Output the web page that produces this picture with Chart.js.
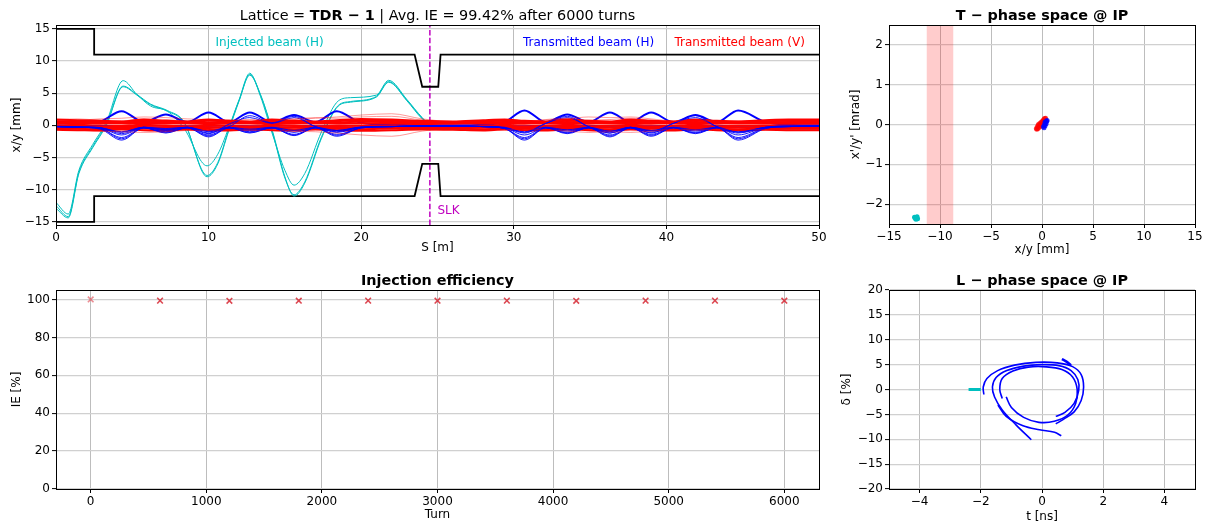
<!DOCTYPE html>
<html><head><meta charset="utf-8">
<script src="https://cdn.jsdelivr.net/npm/chart.js@4.4.1/dist/chart.umd.min.js"></script>
<style>
html,body{margin:0;padding:0;background:#fff}
body{width:1207px;height:529px;position:relative;overflow:hidden;font-family:"DejaVu Sans",sans-serif}
canvas{position:absolute}
.tt{position:absolute;transform:translateX(-50%);font:14.4px/1 "DejaVu Sans",sans-serif;color:#000;white-space:nowrap;z-index:2}
.b{font-weight:bold}
</style></head>
<body>
<canvas id="c1" width="830" height="262" style="left:0;top:0"></canvas>
<canvas id="c2" width="377" height="262" style="left:830px;top:0"></canvas>
<canvas id="c3" width="830" height="264" style="left:0;top:265px"></canvas>
<canvas id="c4" width="377" height="264" style="left:830px;top:265px"></canvas>
<div class="tt" style="left:437.5px;top:8px">Lattice = <b>TDR − 1</b> | Avg. IE = 99.42% after 6000 turns</div>
<div class="tt b" style="left:1042px;top:8px">T − phase space @ IP</div>
<div class="tt b" style="left:437.5px;top:273px">Injection efficiency</div>
<div class="tt b" style="left:1042px;top:273px">L − phase space @ IP</div>
<script>
// ---------------- DATA: top-left (trajectories) ----------------
const tlXTicks = [0, 10, 20, 30, 40, 50];
const tlYTicks = [-15, -10, -5, 0, 5, 10, 15];
const sGrid = [0, 1.4, 2.9, 4.3, 5.75, 7.2, 8.6, 10, 11.35, 12.7, 14.15, 15.6, 17, 18.4, 20, 22, 24, 26, 28, 29.4, 30.7, 32.1, 33.5, 34.9, 36.3, 37.65, 39, 40.45, 41.9, 43.3, 44.7, 46.5, 48, 50];
const blueTop = [0.3, 0.3, 0.6, 2.2, 0.5, 1.7, 0.5, 2.0, 0.5, 2.0, 0.5, 1.6, 0.5, 2.2, 0.4, 0.1, 0.0, 0.0, 0.1, 0.5, 2.3, 0.5, 1.7, 0.5, 2.0, 0.5, 2.0, 0.5, 1.6, 0.5, 2.3, 0.5, 0.1, 0.0];
const blueMid = [-0.1, -0.1, -0.05, -0.1, -0.1, -0.05, -0.1, -0.1, -0.05, -0.1, -0.1, -0.05, -0.1, -0.1, -0.05, -0.1, -0.1, -0.1, -0.05, -0.1, -0.1, -0.05, -0.1, -0.1, -0.05, -0.1, -0.1, -0.05, -0.1, -0.1, -0.05, -0.1, -0.1, -0.1];
const blueNeg1 = [-0.2, -0.3, -0.6, -2.3, -0.4, -1.2, -0.4, -1.8, -0.4, -1.2, -0.4, -1.6, -0.4, -1.7, -0.4, -0.2, -0.1, -0.1, -0.2, -0.5, -2.3, -0.4, -1.3, -0.4, -1.8, -0.4, -1.7, -0.4, -1.3, -0.4, -2.3, -0.5, -0.2, -0.1];
const blueNeg2 = [-0.2, -0.3, -0.5, -1.9, -0.4, -1.0, -0.4, -1.5, -0.4, -1.0, -0.4, -1.4, -0.4, -1.4, -0.4, -0.2, -0.1, -0.1, -0.2, -0.5, -1.9, -0.4, -1.1, -0.4, -1.5, -0.4, -1.4, -0.4, -1.1, -0.4, -1.9, -0.4, -0.2, -0.1];
const blueNeg3 = [-0.2, -0.25, -0.4, -1.5, -0.35, -0.8, -0.35, -1.2, -0.35, -0.8, -0.35, -1.1, -0.35, -1.1, -0.3, -0.2, -0.1, -0.1, -0.2, -0.4, -1.5, -0.35, -0.9, -0.35, -1.2, -0.35, -1.1, -0.35, -0.9, -0.35, -1.5, -0.35, -0.2, -0.1];
const blueNeg4 = [-0.15, -0.2, -0.35, -1.1, -0.3, -0.6, -0.3, -0.9, -0.3, -0.6, -0.3, -0.8, -0.3, -0.8, -0.25, -0.15, -0.1, -0.1, -0.15, -0.3, -1.1, -0.3, -0.7, -0.3, -0.9, -0.3, -0.8, -0.3, -0.7, -0.3, -1.1, -0.3, -0.15, -0.1];
const blueNeg5 = [-0.2, -0.3, -0.5, -2.1, -0.4, -1.1, -0.4, -1.65, -0.4, -1.1, -0.4, -1.5, -0.4, -1.55, -0.4, -0.2, -0.1, -0.1, -0.2, -0.5, -2.1, -0.4, -1.2, -0.4, -1.65, -0.4, -1.55, -0.4, -1.2, -0.4, -2.1, -0.45, -0.2, -0.1];
const blueMix1 = [-0.2, -0.3, -0.4, -1.0, -0.3, -0.5, -0.3, -1.0, -0.2, 1.5, 0.4, 1.4, -0.2, -0.8, -0.3, -0.2, -0.1, -0.1, -0.2, -0.4, -1.0, 0.3, 1.4, -0.2, -1.0, -0.3, -0.9, 0.3, 1.5, -0.2, -1.0, -0.3, -0.1, -0.1];
const blueMix2 = [-0.2, -0.3, -0.4, -1.3, -0.3, -0.7, -0.3, -1.3, 0.2, 1.2, 0.3, 1.2, -0.2, -1.0, -0.3, -0.2, -0.1, -0.1, -0.2, -0.4, -1.2, 0.3, 1.2, -0.2, -1.2, -0.3, -1.2, 0.3, 1.2, -0.2, -1.2, -0.3, -0.1, -0.1];
const redA = [0.9, 0.8, 0.7, 0.6, 0.9, 0.7, 0.6, 0.9, 0.7, 0.6, 0.9, 0.7, 0.6, 0.8, 1.0, 0.9, 0.7, 0.6, 0.8, 0.9, 0.7, 0.6, 0.9, 0.7, 0.6, 0.9, 0.7, 0.6, 0.9, 0.7, 0.6, 0.8, 0.9, 0.9];
const redB = [0.65, 0.6, 0.55, 0.5, 0.7, 0.6, 0.5, 0.7, 0.6, 0.5, 0.7, 0.6, 0.5, 0.65, 0.8, 0.7, 0.55, 0.5, 0.65, 0.7, 0.55, 0.5, 0.7, 0.6, 0.5, 0.7, 0.6, 0.5, 0.7, 0.6, 0.5, 0.65, 0.7, 0.7];
const redC = [0.45, 0.4, 0.35, 0.4, 0.5, 0.4, 0.35, 0.45, 0.4, 0.35, 0.5, 0.4, 0.35, 0.45, 0.55, 0.5, 0.4, 0.35, 0.45, 0.5, 0.4, 0.35, 0.5, 0.4, 0.35, 0.5, 0.4, 0.35, 0.5, 0.4, 0.35, 0.45, 0.5, 0.5];
const redH = [0.25, 0.2, 0.25, 0.3, 0.2, 0.25, 0.3, 0.2, 0.25, 0.3, 0.2, 0.25, 0.3, 0.25, 0.3, 0.25, 0.2, 0.25, 0.3, 0.2, 0.25, 0.3, 0.2, 0.25, 0.3, 0.2, 0.25, 0.3, 0.2, 0.25, 0.3, 0.25, 0.25, 0.25];
const redD = [-0.05, -0.1, -0.15, -0.1, -0.05, -0.1, -0.15, -0.05, -0.1, -0.15, -0.05, -0.1, -0.15, -0.1, -0.05, -0.1, -0.1, -0.15, -0.05, -0.1, -0.15, -0.05, -0.1, -0.15, -0.05, -0.1, -0.15, -0.05, -0.1, -0.15, -0.05, -0.1, -0.1, -0.1];
const redE = [-0.3, -0.3, -0.35, -0.25, -0.3, -0.35, -0.25, -0.3, -0.35, -0.25, -0.3, -0.35, -0.25, -0.3, -0.35, -0.3, -0.25, -0.3, -0.35, -0.25, -0.3, -0.35, -0.25, -0.3, -0.35, -0.25, -0.3, -0.35, -0.25, -0.3, -0.35, -0.3, -0.3, -0.3];
const redF = [-0.5, -0.55, -0.6, -0.45, -0.5, -0.6, -0.45, -0.55, -0.6, -0.45, -0.5, -0.6, -0.45, -0.55, -0.6, -0.5, -0.45, -0.5, -0.6, -0.45, -0.55, -0.6, -0.45, -0.55, -0.6, -0.45, -0.5, -0.6, -0.45, -0.55, -0.6, -0.5, -0.55, -0.55];
const redG = [-0.7, -0.75, -0.8, -0.65, -0.75, -0.8, -0.65, -0.75, -0.8, -0.65, -0.75, -0.8, -0.65, -0.75, -0.85, -0.75, -0.65, -0.7, -0.8, -0.65, -0.75, -0.8, -0.65, -0.75, -0.8, -0.65, -0.75, -0.8, -0.65, -0.75, -0.8, -0.7, -0.75, -0.75];
const redOut1 = [0.7, 0.8, 1.0, 1.1, 1.3, 1.2, 1.0, 0.9, 0.8, 0.9, 0.8, 0.9, 1.1, 1.3, 1.6, 1.8, 1.0, 0.6, 0.7, 0.8, 0.7, 0.8, 1.0, 1.3, 1.2, 1.3, 1.0, 0.7, 0.8, 0.7, 0.6, 0.7, 0.8, 0.8];
const redOut2 = [-0.6, -0.7, -0.9, -1.0, -1.1, -1.0, -0.8, -0.8, -0.7, -0.8, -0.8, -0.9, -1.0, -1.2, -1.5, -1.7, -0.9, -0.5, -0.6, -0.7, -0.6, -0.7, -0.9, -1.1, -1.0, -1.1, -0.9, -0.6, -0.7, -0.6, -0.6, -0.7, -0.7, -0.7];
const redOut3 = [0.9, 1.0, 0.8, 0.7, 1.0, 0.9, 0.7, 0.9, 0.8, 0.6, 0.9, 1.0, 1.2, 1.1, 1.3, 1.4, 0.8, 0.5, 0.6, 0.7, 0.6, 0.9, 1.1, 0.8, 0.9, 1.1, 0.8, 0.6, 0.7, 0.6, 0.7, 0.8, 0.9, 0.9];
const cyanS = [0, 0.8, 1.5, 2.4, 3.3, 4.4, 5.3, 6.2, 7.3, 8.4, 9.9, 10.6, 11.3, 12.0, 12.7, 13.4, 14.2, 15.0, 15.6, 16.3, 17.4, 18.5, 19.3, 21.0, 21.8, 23.0, 24.0, 24.6, 26, 30, 35, 40, 45, 50];
const cyanA = [-12.0, -13.8, -7.0, -3.0, 0.5, 6.95, 4.8, 3.0, 2.2, -0.5, -6.3, -4.5, -0.5, 4.0, 8.1, 4.5, -1.5, -7.0, -9.3, -7.5, -1.0, 3.8, 4.3, 4.7, 7.0, 4.0, 1.2, 0.0, -0.15, -0.2, -0.1, -0.2, -0.1, -0.15];
const cyanB = [-12.5, -14.2, -7.3, -3.3, 0.2, 6.1, 4.8, 3.3, 2.3, 0.5, -8.0, -6.0, -1.0, 3.8, 7.9, 4.8, -1.0, -8.0, -11.0, -9.0, -2.0, 3.0, 3.6, 4.4, 6.7, 3.8, 1.0, 0.0, -0.2, -0.25, -0.15, -0.25, -0.15, -0.2];
const cyanC = [-12.9, -14.4, -7.5, -3.5, 0.0, 6.0, 4.7, 3.2, 2.2, 0.4, -7.8, -5.8, -0.8, 3.9, 7.8, 4.7, -1.2, -8.2, -10.8, -8.8, -1.8, 3.1, 3.7, 4.5, 6.8, 3.9, 1.1, 0.05, -0.25, -0.2, -0.2, -0.2, -0.2, -0.2];
const apertureS = [0, 2.5, 2.5, 23.5, 24.0, 25.05, 25.2, 50];
const apertureTop = [15, 15, 11, 11, 6, 6, 11, 11];
const apertureBot = [-15, -15, -11, -11, -6, -6, -11, -11];
const slkS = 24.5;
const tlNotes = [
  {text: 'Injected beam (H)', s: 14.0, y: 12.75, color: '#00bfbf', align: 'center'},
  {text: 'Transmitted beam (H)', s: 34.9, y: 12.75, color: '#0000ff', align: 'center'},
  {text: 'Transmitted beam (V)', s: 44.8, y: 12.75, color: '#ff0000', align: 'center'},
  {text: 'SLK', s: 25.0, y: -13.3, color: '#bf00bf', align: 'left'}
];

// ---------------- DATA: top-right (transverse phase space) ----------------
const trXTicks = [-15, -10, -5, 0, 5, 10, 15];
const trYTicks = [-2, -1, 0, 1, 2];
const septumBand = [-11.3, -8.7];
const tRedX = [-0.55, -0.45, -0.4, -0.3, -0.25, -0.2, -0.1, -0.05, 0, 0.05, 0.1, 0.15, 0.2, 0.25, 0.3, -0.35, -0.15, 0.05, 0.2, -0.5, 0.35];
const tRedY = [-0.1, -0.05, -0.1, -0.02, -0.07, 0.03, 0.0, 0.06, 0.02, 0.08, 0.04, 0.12, 0.08, 0.15, 0.1, 0.0, -0.04, -0.02, 0.02, -0.12, 0.16];
const tBlueX = [0.15, 0.25, 0.3, 0.35, 0.4, 0.45, 0.2, 0.3, 0.5];
const tBlueY = [-0.05, 0.0, -0.03, 0.05, 0.02, 0.08, -0.08, 0.06, 0.1];
const tCyanX = [-12.5, -12.4, -12.3, -12.2, -12.35, -12.25];
const tCyanY = [-2.33, -2.36, -2.34, -2.37, -2.38, -2.32];

// ---------------- DATA: bottom-left (injection efficiency) ----------------
const blXTicks = [0, 1000, 2000, 3000, 4000, 5000, 6000];
const blYTicks = [0, 20, 40, 60, 80, 100];
const turns = [0, 600, 1200, 1800, 2400, 3000, 3600, 4200, 4800, 5400, 6000];
const ieValues = [100, 99.4, 99.3, 99.35, 99.4, 99.35, 99.4, 99.3, 99.4, 99.4, 99.35];

// ---------------- DATA: bottom-right (longitudinal phase space) ----------------
const brXTicks = [-4, -2, 0, 2, 4];
const brYTicks = [-20, -15, -10, -5, 0, 5, 10, 15, 20];
const lOuterT = [-1.9, -1.92, -1.8, -1.45, -0.9, -0.2, 0.5, 1.0, 1.28, 1.36, 1.28, 1.05, 0.7, 0.45];
const lOuterD = [-1.0, 0.5, 2.2, 3.8, 4.9, 5.45, 5.35, 4.6, 3.0, 0.5, -2.2, -4.5, -6.0, -6.9];
const lMidT = [-0.35, -0.85, -1.3, -1.55, -1.62, -1.5, -1.15, -0.6, 0.0, 0.55, 0.95, 1.17, 1.2, 1.05, 0.75, 0.45];
const lMidD = [-10.1, -7.1, -4.1, -1.5, 0.5, 2.4, 3.8, 4.7, 5.0, 4.8, 3.8, 2.0, -0.2, -2.8, -4.6, -5.4];
const lInnerT = [-1.17, -1.0, -0.6, -0.1, 0.4, 0.85, 1.1, 1.15, 1.0, 0.65, 0.15, -0.45, -0.95, -1.3, -1.38, -1.3];
const lInnerD = [-1.5, -3.6, -5.6, -6.6, -6.4, -5.1, -2.8, 0.0, 2.5, 4.0, 4.55, 4.5, 3.7, 2.2, 0.0, -1.8];
const lTailT = [-1.44, -1.17, -0.62, -0.08, 0.41, 0.63];
const lTailD = [-3.1, -5.4, -7.3, -8.1, -8.6, -9.3];
const lFragT = [0.65, 0.8, 0.95];
const lFragD = [6.1, 5.6, 4.9];
const lCyanT = [-2.4, -2.0];
const lCyanD = [0, 0];

// ---------------- helpers ----------------
const FONT = '"DejaVu Sans", sans-serif';
const fmt = v => (v < 0 ? '\u2212' + Math.abs(v) : String(v));
const pts = (xs, ys) => xs.map((x, i) => ({x: x, y: ys[i]}));

function axis(pos, min, max, tickVals, title, size, titlePad, gridColor, gridWidth) {
  return {
    type: 'linear', position: pos, min: min, max: max,
    afterBuildTicks: s => { s.ticks = tickVals.map(v => ({value: v})); },
    afterFit: s => { if (pos === 'left') s.width = size; else s.height = size; },
    ticks: {color: '#000', font: {family: FONT, size: 12}, padding: 2, callback: v => fmt(v), autoSkip: false, maxRotation: 0, minRotation: 0},
    grid: {color: gridColor, lineWidth: gridWidth, drawTicks: true, tickLength: 4, tickColor: '#000', tickWidth: 1},
    border: {display: true, color: '#000', width: 1},
    title: {display: true, text: title, color: '#000', font: {family: FONT, size: 12}, padding: {top: titlePad, bottom: titlePad}}
  };
}
const line = (xs, ys, color, w, extra) => Object.assign({
  data: pts(xs, ys), showLine: true, borderColor: color, backgroundColor: color, borderWidth: w,
  pointRadius: 0, pointHoverRadius: 0, tension: 0.35, fill: false
}, extra || {});
const dots = (xs, ys, color, r) => ({
  data: pts(xs, ys), showLine: false, pointRadius: r, pointHoverRadius: r, pointBorderWidth: 0,
  backgroundColor: color, borderColor: color
});

const frame = {
  id: 'frame',
  afterDraw(c) {
    const a = c.chartArea, x = c.ctx;
    const al = p => Math.round(p - 0.5) + 0.5;
    x.save(); x.strokeStyle = '#000'; x.lineWidth = 1;
    x.strokeRect(al(a.left), al(a.top), al(a.right) - al(a.left), al(a.bottom) - al(a.top));
    x.restore();
  }
};
const notes = {
  id: 'notes',
  afterDatasetsDraw(c) {
    const x = c.ctx, sx = c.scales.x, sy = c.scales.y;
    x.save(); x.font = '12px ' + FONT; x.textBaseline = 'middle';
    tlNotes.forEach(n => {
      x.fillStyle = n.color; x.textAlign = n.align;
      x.fillText(n.text, sx.getPixelForValue(n.s), sy.getPixelForValue(n.y));
    });
    x.restore();
  }
};
const band = {
  id: 'band',
  beforeDatasetsDraw(c) {
    const a = c.chartArea, x = c.ctx, sx = c.scales.x;
    const x0 = sx.getPixelForValue(septumBand[0]), x1 = sx.getPixelForValue(septumBand[1]);
    x.save(); x.fillStyle = 'rgba(255,0,0,0.2)';
    x.fillRect(x0, a.top, x1 - x0, a.bottom - a.top);
    x.restore();
  }
};
const base = (pad) => ({
  responsive: false, animation: false, events: [],
  layout: {padding: pad},
  plugins: {legend: {display: false}, tooltip: {enabled: false}, title: {display: false}}
});
const GV = '#bdbdbd', GH = '#d0d0d0';
const mono = {cubicInterpolationMode: 'monotone'};

// ---------------- chart 1: trajectories ----------------
const RED = '#ff0000', REDT = 'rgba(255,0,0,0.4)', BLUET = 'rgba(0,0,255,0.9)';
const o1 = base({left: 0, top: 25, right: 11, bottom: 0});
o1.scales = {
  x: axis('bottom', 0, 50, tlXTicks, 'S [m]', 37, 7, GV, 1),
  y: axis('left', -15.5, 15.6, tlYTicks, 'x/y [mm]', 56, 10, GH, 1.2)
};
new Chart(document.getElementById('c1'), {
  type: 'scatter',
  data: {datasets: [
    line(sGrid, redOut1, REDT, 1, mono),
    line(sGrid, redOut2, REDT, 1, mono),
    line(sGrid, redOut3, REDT, 1, mono),
    line(sGrid, blueNeg1, BLUET, 1, mono),
    line(sGrid, blueNeg5, BLUET, 1, mono),
    line(sGrid, blueNeg2, BLUET, 1, mono),
    line(sGrid, blueNeg3, BLUET, 1, mono),
    line(sGrid, blueNeg4, BLUET, 1, mono),
    line(sGrid, blueMix1, BLUET, 1, mono),
    line(sGrid, blueMix2, BLUET, 1, mono),
    line(sGrid, redA, RED, 2, mono),
    line(sGrid, redB, RED, 2, mono),
    line(sGrid, redC, RED, 2, mono),
    line(sGrid, redH, RED, 2, mono),
    line(sGrid, redD, RED, 2, mono),
    line(sGrid, redE, RED, 2, mono),
    line(sGrid, redF, RED, 2, mono),
    line(sGrid, redG, RED, 2, mono),
    line(sGrid, blueMid, '#0000ff', 1.5, mono),
    line(sGrid, blueTop, '#0000ff', 2, mono),
    line(cyanS, cyanA, '#00bfbf', 1, mono),
    line(cyanS, cyanB, '#00bfbf', 1, mono),
    line(cyanS, cyanC, '#00bfbf', 1, mono),
    line(apertureS, apertureTop, '#000', 1.8, {tension: 0}),
    line(apertureS, apertureBot, '#000', 1.8, {tension: 0}),
    line([slkS, slkS], [o1.scales.y.min, o1.scales.y.max], '#bf00bf', 1.5, {tension: 0, borderDash: [5.5, 2.4]})
  ]},
  options: o1,
  plugins: [frame, notes]
});

// ---------------- chart 2: T phase space ----------------
const o2 = base({left: 0, top: 25, right: 12, bottom: 0});
o2.scales = {
  x: axis('bottom', -15, 15, trXTicks, 'x/y [mm]', 38, 5, GV, 1),
  y: axis('left', -2.5, 2.5, trYTicks, "x'/y' [mrad]", 59, 19, GH, 1.2)
};
new Chart(document.getElementById('c2'), {
  type: 'scatter',
  data: {datasets: [
    dots(tBlueX, tBlueY, 'rgba(0,0,255,0.8)', 2.5),
    dots(tRedX, tRedY, 'rgba(255,0,0,0.75)', 2.5),
    dots(tCyanX, tCyanY, '#00bfbf', 2.5)
  ]},
  options: o2,
  plugins: [band, frame]
});

// ---------------- chart 3: injection efficiency ----------------
const o3 = base({left: 0, top: 25, right: 11, bottom: 0});
o3.scales = {
  x: axis('bottom', -300, 6300, blXTicks, 'Turn', 40, 7, GV, 1),
  y: axis('left', 0, 105, blYTicks, 'IE [%]', 56, 10, GH, 1.2)
};
new Chart(document.getElementById('c3'), {
  type: 'scatter',
  data: {datasets: [{
    data: pts(turns, ieValues), showLine: false, pointStyle: 'crossRot',
    pointRadius: 4, pointHoverRadius: 4, pointBorderWidth: 1.6,
    pointBorderColor: turns.map((t, i) => i === 0 ? 'rgba(220,50,60,0.55)' : 'rgba(214,39,50,0.85)'),
    borderColor: 'rgba(214,39,50,0.85)', backgroundColor: 'rgba(214,39,50,0.85)'
  }]},
  options: o3,
  plugins: [frame]
});

// ---------------- chart 4: L phase space ----------------
const o4 = base({left: 0, top: 25, right: 12, bottom: 0});
o4.scales = {
  x: axis('bottom', -5, 5, brXTicks, 't [ns]', 40, 5, GV, 1),
  y: axis('left', -20, 20, brYTicks, 'δ [%]', 59, 10, GH, 1.2)
};
new Chart(document.getElementById('c4'), {
  type: 'scatter',
  data: {datasets: [
    line(lOuterT, lOuterD, '#0000ff', 1.6),
    line(lMidT, lMidD, '#0000ff', 1.6),
    line(lInnerT, lInnerD, '#0000ff', 1.6),
    line(lTailT, lTailD, '#0000ff', 1.6),
    line(lFragT, lFragD, '#0000ff', 2.5),
    line(lCyanT, lCyanD, '#00bfbf', 3, {tension: 0})
  ]},
  options: o4,
  plugins: [frame]
});
</script>
</body></html>
